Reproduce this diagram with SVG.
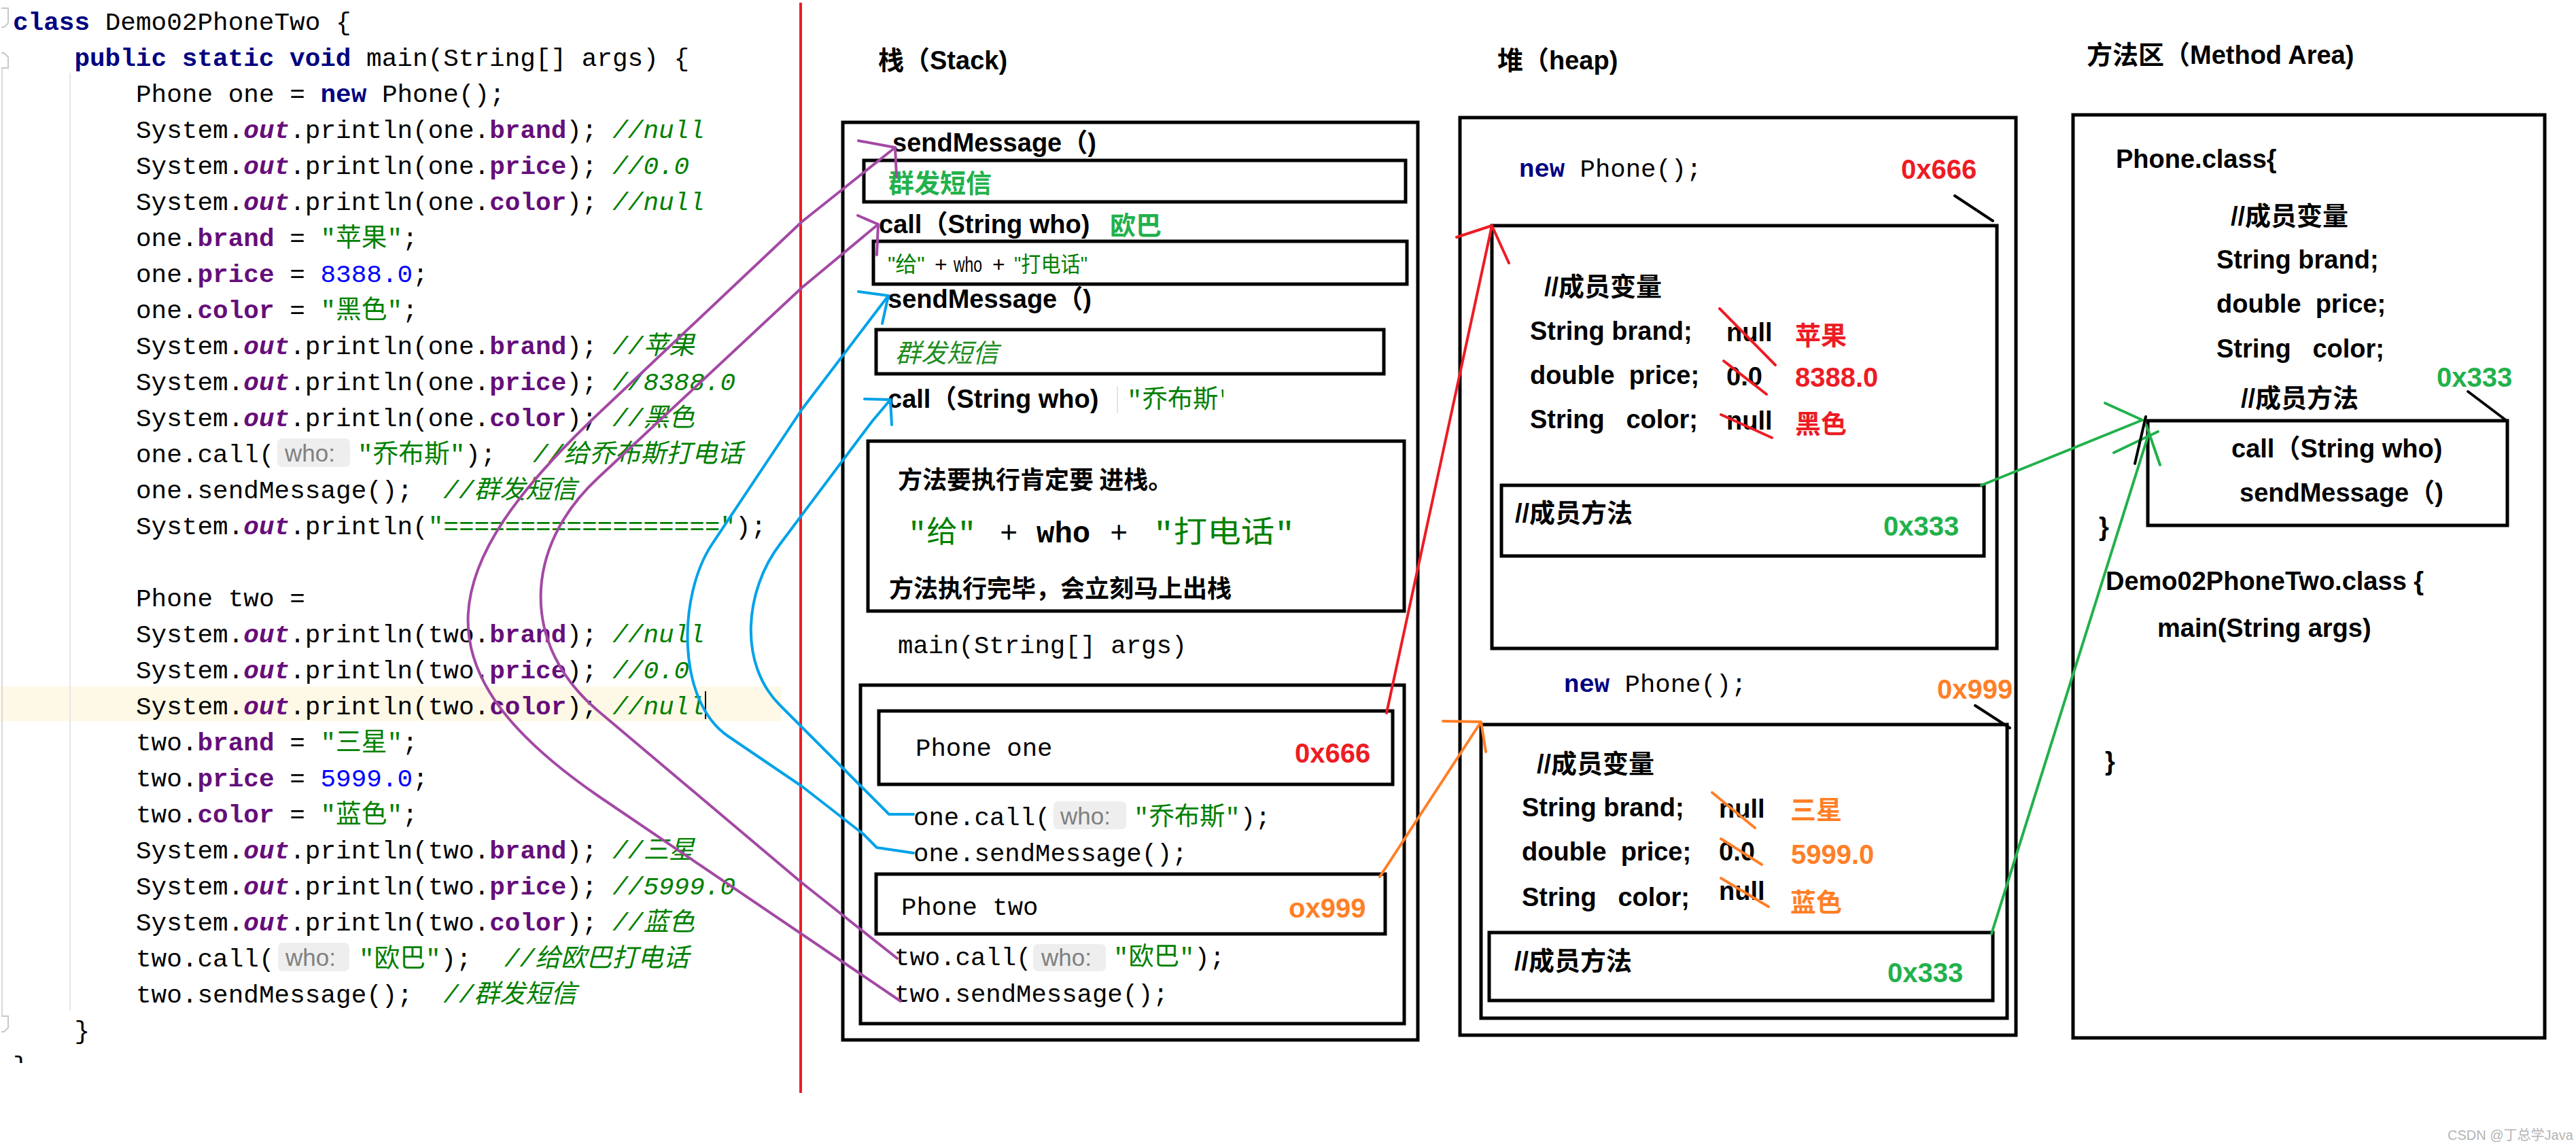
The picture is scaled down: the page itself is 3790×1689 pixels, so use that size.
<svg xmlns="http://www.w3.org/2000/svg" width="3790" height="1689" viewBox="0 0 3790 1689">
<style>
text{white-space:pre}
.mono{font-family:"Liberation Mono","Noto Sans CJK SC",monospace;font-size:37.7px;fill:#000}
.smono{font-family:"Liberation Mono","Noto Sans CJK SC",monospace;font-size:37.3px;fill:#000}
.kw{fill:#000080;font-weight:bold}
.fld{fill:#660E7A;font-weight:bold}
.out{fill:#660E7A;font-weight:bold;font-style:italic}
.str{fill:#008000}
.num{fill:#0000FF}
.cmt{fill:#008000;font-style:italic}
.hint{font-family:"Liberation Sans","Noto Sans",sans-serif;font-size:35px;fill:#808080}
.hintbg{fill:#EEEEEE}
.lbl{font-family:"Liberation Sans","Noto Sans CJK SC",sans-serif;font-weight:bold;font-size:38px;fill:#000}
.big{font-size:40px}
.cn{font-family:"Noto Sans CJK SC","Liberation Sans",sans-serif;font-weight:bold;font-size:36px;fill:#000}
.pg{fill:#22B14C}
.pr{fill:#ED1C24}
.po{fill:#FF7F27}
.box{fill:none;stroke:#000;stroke-width:5}
.conn{fill:none;stroke-width:4;stroke-linecap:round;stroke-linejoin:round}
.purple{stroke:#A349A4}
.blue{stroke:#00A2E8}
.red{stroke:#ED1C24}
.orange{stroke:#FF7F27}
.green{stroke:#22B14C}
.blk{stroke:#000}
</style>
<defs>
<clipPath id="clipParen"><rect x="1640" y="560" width="160" height="60"/></clipPath>
<clipPath id="clipBrace"><rect x="0" y="1540" width="60" height="24"/></clipPath>
</defs>
<rect x="0" y="0" width="3790" height="1689" fill="#fff"/>

<g id="code">
<rect x="0" y="1010" width="1150" height="51" fill="#FEF9E6"/>
<line x1="3" y1="100" x2="3" y2="1495" stroke="#D8D8D8" stroke-width="2"/>
<line x1="103" y1="107" x2="103" y2="1486" stroke="#E6E6E6" stroke-width="2"/>
<path d="M2,12 L12,12 L12,34 L6,40 L2,40" fill="none" stroke="#C8C8C8" stroke-width="2"/>
<path d="M2,78 L6,78 L12,84 L12,100 L2,100" fill="none" stroke="#C8C8C8" stroke-width="2"/>
<path d="M2,1495 L12,1495 L12,1512 L6,1518 L2,1518" fill="none" stroke="#C8C8C8" stroke-width="2"/>
<text class="mono" x="19" y="43.6"><tspan class="kw">class</tspan> Demo02PhoneTwo {</text>
<text class="mono" x="109.4" y="96.6"><tspan class="kw">public static void</tspan> main(String[] args) {</text>
<text class="mono" x="200" y="149.6">Phone one = <tspan class="kw">new</tspan> Phone();</text>
<text class="mono" x="200" y="202.6">System.<tspan class="out">out</tspan>.println(one.<tspan class="fld">brand</tspan>); <tspan class="cmt">//null</tspan></text>
<text class="mono" x="200" y="255.6">System.<tspan class="out">out</tspan>.println(one.<tspan class="fld">price</tspan>); <tspan class="cmt">//0.0</tspan></text>
<text class="mono" x="200" y="308.6">System.<tspan class="out">out</tspan>.println(one.<tspan class="fld">color</tspan>); <tspan class="cmt">//null</tspan></text>
<text class="mono" x="200" y="361.6">one.<tspan class="fld">brand</tspan> = <tspan class="str">"苹果"</tspan>;</text>
<text class="mono" x="200" y="414.6">one.<tspan class="fld">price</tspan> = <tspan class="num">8388.0</tspan>;</text>
<text class="mono" x="200" y="467.6">one.<tspan class="fld">color</tspan> = <tspan class="str">"黑色"</tspan>;</text>
<text class="mono" x="200" y="520.6">System.<tspan class="out">out</tspan>.println(one.<tspan class="fld">brand</tspan>); <tspan class="cmt">//苹果</tspan></text>
<text class="mono" x="200" y="573.6">System.<tspan class="out">out</tspan>.println(one.<tspan class="fld">price</tspan>); <tspan class="cmt">//8388.0</tspan></text>
<text class="mono" x="200" y="626.6">System.<tspan class="out">out</tspan>.println(one.<tspan class="fld">color</tspan>); <tspan class="cmt">//黑色</tspan></text>
<text class="mono" x="200" y="679.6">one.call(</text>
<rect class="hintbg" x="408" y="645" width="107" height="42" rx="7"/>
<text class="hint" x="419" y="679">who:</text>
<text class="mono" x="526" y="679.6"><tspan class="str">"乔布斯"</tspan>);</text>
<text class="mono" x="784" y="679.6"><tspan class="cmt">//给乔布斯打电话</tspan></text>
<text class="mono" x="200" y="732.6">one.sendMessage();  <tspan class="cmt">//群发短信</tspan></text>
<text class="mono" x="200" y="785.6">System.<tspan class="out">out</tspan>.println(<tspan class="str">"=================="</tspan>);</text>
<text class="mono" x="200" y="891.6">Phone two =</text>
<text class="mono" x="200" y="944.6">System.<tspan class="out">out</tspan>.println(two.<tspan class="fld">brand</tspan>); <tspan class="cmt">//null</tspan></text>
<text class="mono" x="200" y="997.6">System.<tspan class="out">out</tspan>.println(two.<tspan class="fld">price</tspan>); <tspan class="cmt">//0.0</tspan></text>
<text class="mono" x="200" y="1050.6">System.<tspan class="out">out</tspan>.println(two.<tspan class="fld">color</tspan>); <tspan class="cmt">//null</tspan></text>
<line x1="1038" y1="1017" x2="1038" y2="1058" stroke="#000" stroke-width="2"/>
<text class="mono" x="200" y="1103.6">two.<tspan class="fld">brand</tspan> = <tspan class="str">"三星"</tspan>;</text>
<text class="mono" x="200" y="1156.6">two.<tspan class="fld">price</tspan> = <tspan class="num">5999.0</tspan>;</text>
<text class="mono" x="200" y="1209.6">two.<tspan class="fld">color</tspan> = <tspan class="str">"蓝色"</tspan>;</text>
<text class="mono" x="200" y="1262.6">System.<tspan class="out">out</tspan>.println(two.<tspan class="fld">brand</tspan>); <tspan class="cmt">//三星</tspan></text>
<text class="mono" x="200" y="1315.6">System.<tspan class="out">out</tspan>.println(two.<tspan class="fld">price</tspan>); <tspan class="cmt">//5999.0</tspan></text>
<text class="mono" x="200" y="1368.6">System.<tspan class="out">out</tspan>.println(two.<tspan class="fld">color</tspan>); <tspan class="cmt">//蓝色</tspan></text>
<text class="mono" x="200" y="1421.6">two.call(</text>
<rect class="hintbg" x="409" y="1387" width="105" height="42" rx="7"/>
<text class="hint" x="420" y="1421">who:</text>
<text class="mono" x="528" y="1421.6"><tspan class="str">"欧巴"</tspan>);</text>
<text class="mono" x="742" y="1421.6"><tspan class="cmt">//给欧巴打电话</tspan></text>
<text class="mono" x="200" y="1474.6">two.sendMessage();  <tspan class="cmt">//群发短信</tspan></text>
<text class="mono" x="109.4" y="1527.6">}</text>
<text class="mono" x="19" y="1580" clip-path="url(#clipBrace)">}</text>
</g>

<line id="divider" x1="1178" y1="4" x2="1178" y2="1608" stroke="#ED1C24" stroke-width="4"/>

<g id="stack">
<text class="lbl" x="1292" y="102">栈（Stack)</text>
<rect class="box" x="1240" y="180" width="846" height="1350"/>
<text class="lbl" x="1313" y="223">sendMessage（)</text>
<rect class="box" x="1271" y="236" width="797" height="61"/>
<text class="lbl pg" x="1307" y="283">群发短信</text>
<text class="lbl" x="1293" y="343">call（String who)</text>
<text class="lbl pg" x="1633" y="345">欧巴</text>
<rect class="box" x="1285" y="355" width="785" height="63"/>
<text font-family="Liberation Sans,Noto Sans CJK SC,sans-serif" font-size="32" x="1306" y="400"><tspan fill="#008000">"给"</tspan></text>
<text font-family="Liberation Sans,Noto Sans CJK SC,sans-serif" font-size="32" x="1375" y="400">+</text>
<text font-family="Liberation Sans,Noto Sans CJK SC,sans-serif" font-size="32" x="1403" y="400" textLength="42" lengthAdjust="spacingAndGlyphs">who</text>
<text font-family="Liberation Sans,Noto Sans CJK SC,sans-serif" font-size="32" x="1460" y="400">+</text>
<text font-family="Liberation Sans,Noto Sans CJK SC,sans-serif" font-size="32" x="1492" y="400" textLength="108" lengthAdjust="spacingAndGlyphs" fill="#008000">"打电话"</text>
<text class="lbl" x="1306" y="453">sendMessage（)</text>
<rect class="box" x="1289" y="485" width="747" height="65"/>
<text font-family="Noto Sans CJK SC,sans-serif" font-size="38" font-style="italic" fill="#1E8C1E" x="1317" y="533">群发短信</text>
<text class="lbl" x="1306" y="600">call（String who)</text>
<line x1="1644" y1="568" x2="1644" y2="608" stroke="#E4E4E4" stroke-width="2"/>
<text class="smono" x="1658" y="600" clip-path="url(#clipParen)"><tspan class="str">"乔布斯"</tspan>)</text>
<rect class="box" x="1277" y="649" width="789" height="250"/>
<text class="cn" x="1321" y="719">方法要执行肯定要 进栈。</text>
<text font-family="Liberation Mono,Noto Sans CJK SC,monospace" font-size="44" x="1336" y="798" textLength="100" lengthAdjust="spacingAndGlyphs" fill="#008000">"给"</text>
<text font-family="Liberation Mono,monospace" font-size="44" x="1471" y="798">+</text>
<text font-family="Liberation Mono,monospace" font-size="44" font-weight="bold" x="1525" y="798">who</text>
<text font-family="Liberation Mono,monospace" font-size="44" x="1633" y="798">+</text>
<text font-family="Liberation Mono,Noto Sans CJK SC,monospace" font-size="44" x="1697" y="798" textLength="208" lengthAdjust="spacingAndGlyphs" fill="#008000">"打电话"</text>
<text class="cn" x="1308" y="879">方法执行完毕，会立刻马上出栈</text>
<text class="smono" x="1321" y="961">main(String[] args)</text>
<rect class="box" x="1266" y="1008" width="800" height="498"/>
<rect class="box" x="1293" y="1046" width="756" height="108"/>
<text class="smono" x="1347" y="1112">Phone one</text>
<text class="lbl big pr" x="1905" y="1122">0x666</text>
<text class="smono" x="1344" y="1214">one.call(</text>
<rect class="hintbg" x="1550" y="1179" width="107" height="41" rx="7"/>
<text class="hint" x="1560" y="1213">who:</text>
<text class="smono" x="1668" y="1214"><tspan class="str">"乔布斯"</tspan>);</text>
<text class="smono" x="1344" y="1267">one.sendMessage();</text>
<rect class="box" x="1289" y="1286" width="749" height="88"/>
<text class="smono" x="1326" y="1346">Phone two</text>
<text class="lbl big po" x="1896" y="1350">ox999</text>
<text class="smono" x="1316" y="1420">two.call(</text>
<rect class="hintbg" x="1520" y="1389" width="107" height="40" rx="7"/>
<text class="hint" x="1532" y="1421">who:</text>
<text class="smono" x="1638" y="1420"><tspan class="str">"欧巴"</tspan>);</text>
<text class="smono" x="1316" y="1474">two.sendMessage();</text>
</g>

<g id="heap">
<text class="lbl" x="2203" y="102">堆（heap)</text>
<rect class="box" x="2148" y="173" width="818" height="1350"/>
<text class="smono" x="2235" y="260"><tspan class="kw">new</tspan> Phone();</text>
<text class="lbl big pr" x="2797" y="263">0x666</text>
<g id="obj1">
<rect class="box" x="2195" y="332" width="743" height="622"/>
<text class="lbl" x="2272" y="435">//成员变量</text>
<text class="lbl" x="2251" y="500">String brand;</text>
<text class="lbl" x="2540" y="502">null</text>
<text class="lbl pr" x="2641" y="507">苹果</text>
<text class="lbl" x="2251" y="565">double  price;</text>
<text class="lbl" x="2540" y="567">0.0</text>
<text class="lbl big pr" x="2641" y="569">8388.0</text>
<text class="lbl" x="2251" y="630">String   color;</text>
<text class="lbl" x="2540" y="632">null</text>
<text class="lbl pr" x="2641" y="637">黑色</text>
<rect class="box" x="2209" y="714" width="710" height="104"/>
<text class="lbl" x="2229" y="768">//成员方法</text>
<text class="lbl big pg" x="2771" y="788">0x333</text>
</g>
<text class="smono" x="2301" y="1018"><tspan class="kw">new</tspan> Phone();</text>
<text class="lbl big po" x="2850" y="1028">0x999</text>
<g id="obj2">
<rect class="box" x="2179" y="1066" width="774" height="432"/>
<text class="lbl" x="2261" y="1137">//成员变量</text>
<text class="lbl" x="2239" y="1201">String brand;</text>
<text class="lbl" x="2529" y="1203">null</text>
<text class="lbl po" x="2634" y="1205">三星</text>
<text class="lbl" x="2239" y="1266">double  price;</text>
<text class="lbl" x="2529" y="1266">0.0</text>
<text class="lbl big po" x="2635" y="1271">5999.0</text>
<text class="lbl" x="2239" y="1333">String   color;</text>
<text class="lbl" x="2529" y="1324">null</text>
<text class="lbl po" x="2634" y="1341">蓝色</text>
<rect class="box" x="2191" y="1372" width="741" height="100"/>
<text class="lbl" x="2228" y="1427">//成员方法</text>
<text class="lbl big pg" x="2777" y="1445">0x333</text>
</g>
<g id="strikes" class="conn" stroke-width="3">
<path class="red" d="M2530,454 L2612,537 M2536,531 L2599,580 M2532,610 L2607,644"/>
<path class="orange" d="M2519,1166 L2582,1218 M2532,1234 L2592,1272 M2532,1292 L2602,1334"/>
</g>
</g>

<g id="method-area">
<text class="lbl" x="3070" y="94">方法区（Method Area)</text>
<rect class="box" x="3050" y="169" width="694" height="1358"/>
<text class="lbl" x="3113" y="247">Phone.class{</text>
<text class="lbl" x="3282" y="331">//成员变量</text>
<text class="lbl" x="3261" y="395">String brand;</text>
<text class="lbl" x="3261" y="460">double  price;</text>
<text class="lbl" x="3261" y="526">String   color;</text>
<text class="lbl big pg" x="3585" y="569">0x333</text>
<text class="lbl" x="3297" y="599">//成员方法</text>
<rect class="box" x="3160" y="619" width="529" height="154"/>
<text class="lbl" x="3283" y="673">call（String who)</text>
<text class="lbl" x="3295" y="738">sendMessage（)</text>
<text class="lbl" x="3088" y="788">}</text>
<text class="lbl" x="3098" y="868">Demo02PhoneTwo.class {</text>
<text class="lbl" x="3174" y="937">main(String args)</text>
<text class="lbl" x="3097" y="1133">}</text>
</g>

<g id="connectors">
<path class="conn purple" d="M1317,217 L1180,326 L880,609 C641,835 609,984 880,1171 L1325,1473"/>
<path class="conn purple" d="M1263,207 L1317,217 L1319,260"/>
<path class="conn purple" d="M1292,330 L1180,423 L880,703 C770,805 765,949 880,1046 L1180,1299 L1320,1410"/>
<path class="conn purple" d="M1262,317 L1292,330 L1290,375"/>
<path class="conn blue" d="M1307,435 L1180,602 L1048,800 C997,876 995,1031 1071,1083 L1180,1157 L1270,1227 L1290,1247 L1344,1255"/>
<path class="conn blue" d="M1263,429 L1307,435 L1298,476"/>
<path class="conn blue" d="M1310,588 L1283,620 L1148,800 C1095,869 1086,977 1148,1038 L1270,1160 L1308,1198 L1344,1198"/>
<path class="conn blue" d="M1272,587 L1310,588 L1312,625"/>
<path class="conn red" d="M2040,1049 L2195,332 M2143,349 L2195,332 L2220,387"/>
<path class="conn orange" d="M2030,1290 L2179,1062 M2123,1061 L2179,1062 L2186,1106"/>
<path class="conn green" d="M2915,714 L3152,618 M3097,593 L3152,618"/>
<path class="conn green" d="M2930,1374 L3162,636 M3110,666 L3175,635 M3158,626 L3178,684"/>
<path class="conn blk" d="M3157,613 L3141,682"/>
<path class="conn blk" d="M2876,288 L2932,325 M2906,1038 L2957,1071 M3631,576 L3688,619"/>
</g>

<text x="3601" y="1677" font-family="Liberation Sans,Noto Sans CJK SC,sans-serif" font-size="20" fill="#B4B4B4">CSDN @丁总学Java</text>
</svg>
